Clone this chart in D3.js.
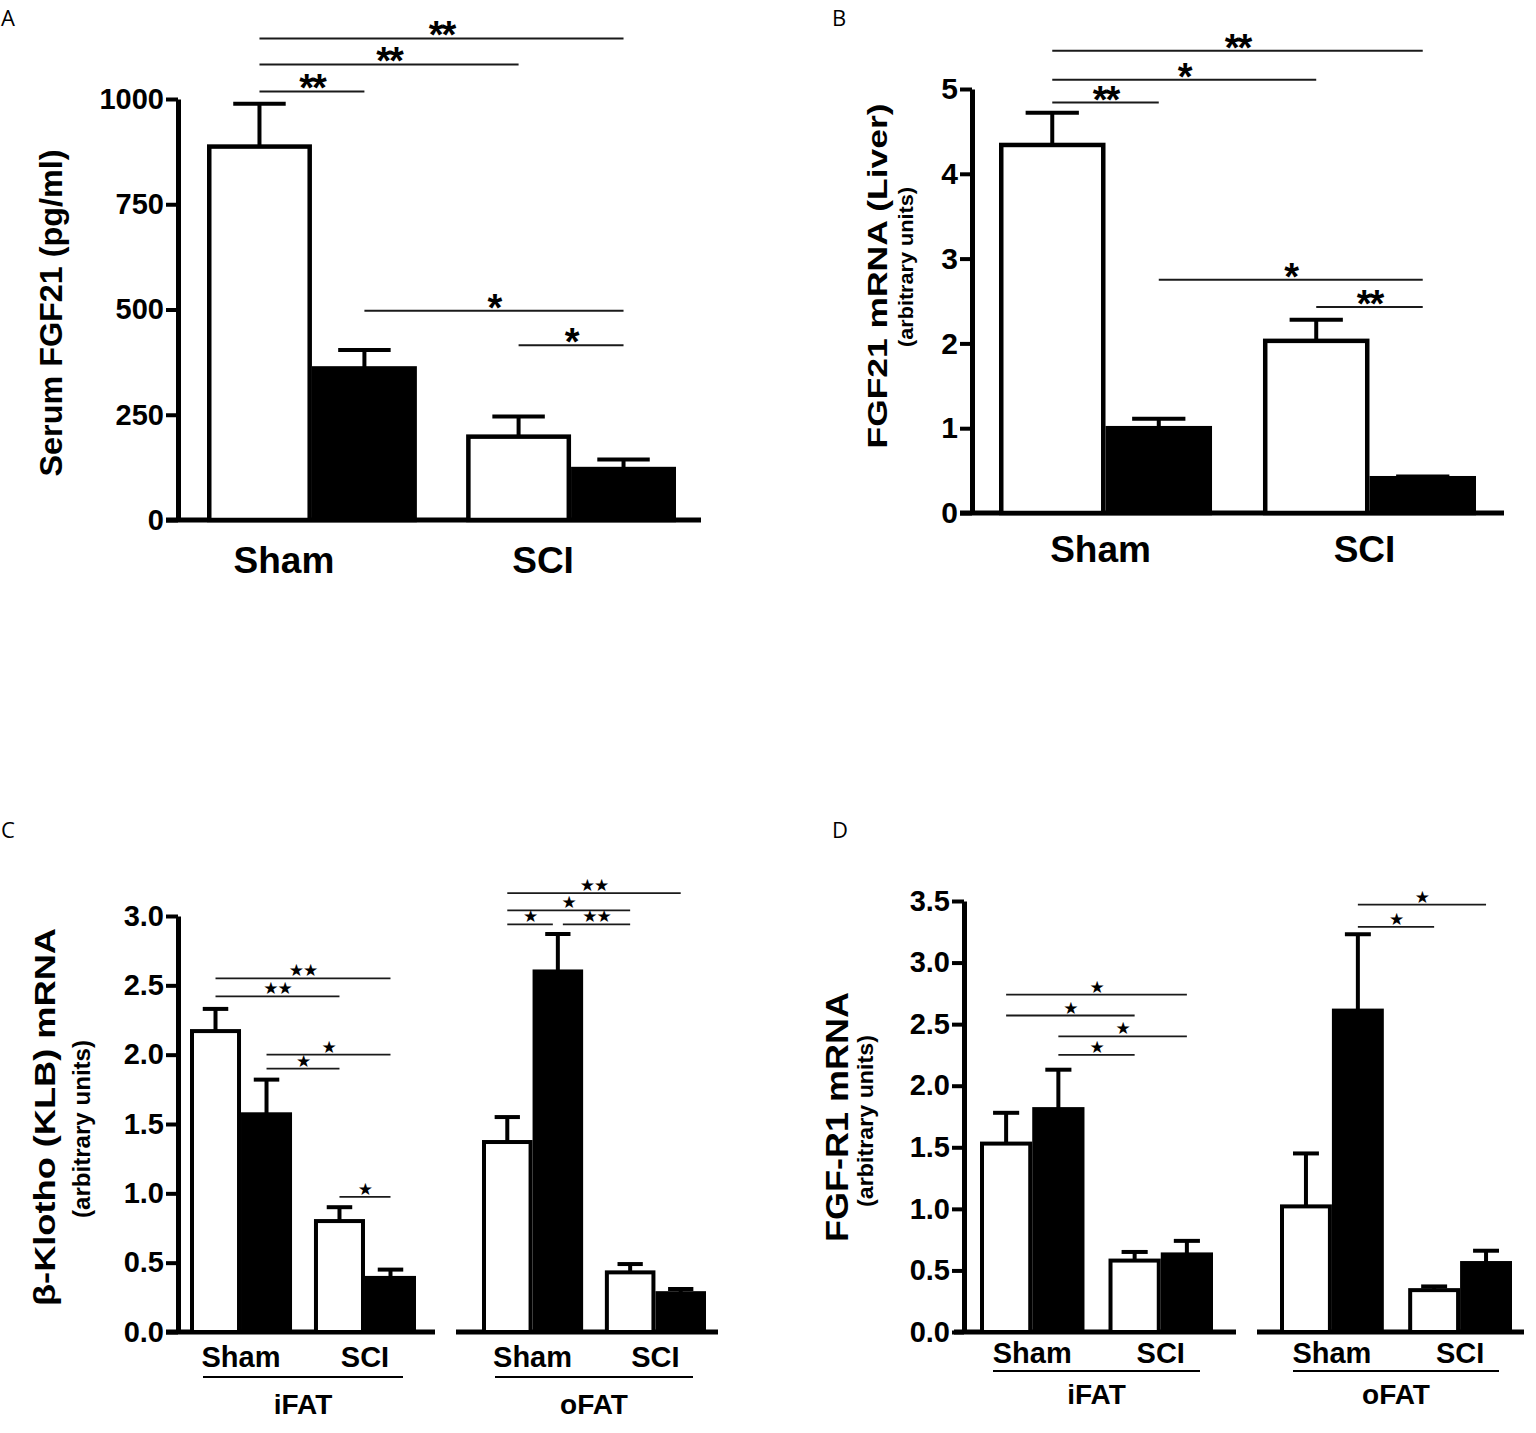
<!DOCTYPE html>
<html><head><meta charset="utf-8">
<script src="https://cdn.jsdelivr.net/npm/d3@7"></script>
<style>body{margin:0;background:#fff}</style>
</head><body><svg id="c" width="1536" height="1433" xmlns="http://www.w3.org/2000/svg"></svg>
<script>
// ---------- DATA ----------
const groups = ["Sham", "SCI"];
const series = ["open", "filled"];
const tissues = ["iFAT", "oFAT"];

// Panel A: Serum FGF21 (pg/ml)
const aMeans = [887, 360, 198, 121];
const aErrs  = [102, 44, 48, 23];
const aTicks = [0, 250, 500, 750, 1000];
const aSig = [[0,1,1018,"**"],[0,2,1082,"**"],[0,3,1144,"**"],[1,3,497,"*"],[2,3,415,"*"]];

// Panel B: FGF21 mRNA (Liver)
const bMeans = [4.34, 1.00, 2.03, 0.41];
const bErrs  = [0.38, 0.11, 0.25, 0.02];
const bTicks = [0, 1, 2, 3, 4, 5];
const bSig = [[0,1,4.84,"**"],[0,2,5.11,"*"],[0,3,5.45,"**"],[1,3,2.75,"*"],[2,3,2.43,"**"]];

// Panel C: beta-Klotho (KLB) mRNA
const cMeansIFAT = [2.17, 1.57, 0.80, 0.39];
const cErrsIFAT  = [0.16, 0.25, 0.10, 0.06];
const cMeansOFAT = [1.37, 2.60, 0.43, 0.28];
const cErrsOFAT  = [0.18, 0.27, 0.06, 0.03];
const cTicks = [0, 0.5, 1.0, 1.5, 2.0, 2.5, 3.0];
const cSigIFAT = [[0,3,2.55,"**"],[0,2,2.42,"**"],[1,3,2.00,"*"],[1,2,1.90,"*"],[2,3,0.975,"*"]];
const cSigOFAT = [[0,3,3.165,"**"],[0,2,3.04,"*"],[0,1,2.94,"*"],[1,2,2.94,"**"]];

// Panel D: FGF-R1 mRNA
const dMeansIFAT = [1.53, 1.81, 0.58, 0.63];
const dErrsIFAT  = [0.25, 0.32, 0.07, 0.11];
const dMeansOFAT = [1.02, 2.61, 0.34, 0.56];
const dErrsOFAT  = [0.43, 0.62, 0.03, 0.10];
const dTicks = [0, 0.5, 1.0, 1.5, 2.0, 2.5, 3.0, 3.5];
const dSigIFAT = [[0,3,2.74,"*"],[0,2,2.57,"*"],[1,3,2.40,"*"],[1,2,2.25,"*"]];
const dSigOFAT = [[1,3,3.47,"*"],[1,2,3.29,"*"]];

// ---------- DRAWING ----------
const FONT = '"Liberation Sans", Arial, Helvetica, sans-serif';
const svg = d3.select("#c");

function yAxis(y, ticks, x, fmt, fs) {
  const ax = d3.axisLeft(y).tickValues(ticks).tickSize(12).tickSizeOuter(0).tickPadding(2).tickFormat(fmt);
  const a = svg.append("g").attr("transform", `translate(${x},0)`).call(ax);
  a.select(".domain").attr("stroke", "#000").attr("stroke-width", 5);
  a.selectAll(".tick line").attr("stroke", "#000").attr("stroke-width", 4);
  a.selectAll(".tick text").attr("fill", "#000")
    .style("font-family", FONT).style("font-weight", "bold").style("font-size", fs + "px");
}

function title(text, x, y, fs, len) {
  svg.append("text").attr("transform", `translate(${x},${y}) rotate(-90)`)
    .attr("text-anchor", "middle").attr("textLength", len).attr("lengthAdjust", "spacingAndGlyphs")
    .style("font-family", FONT).style("font-weight", "bold")
    .style("font-size", fs + "px").text(text);
}

function block(cfg) {
  const y = cfg.y;
  const xg = d3.scaleBand().domain(groups).range(cfg.range).paddingInner(cfg.pad).paddingOuter(0);
  const xs = d3.scaleBand().domain(series).range([0, xg.bandwidth()]);
  const data = cfg.means.map((m, i) => ({ g: groups[Math.floor(i / 2)], s: series[i % 2], m, e: cfg.errs[i] }));
  const cx = d => xg(d.g) + xs(d.s) + xs.bandwidth() / 2;
  const g = svg.append("g");

  // baseline
  g.append("line").attr("x1", cfg.base[0]).attr("x2", cfg.base[1])
    .attr("y1", y(0)).attr("y2", y(0)).attr("stroke", "#000").attr("stroke-width", 5);

  // bars
  const sw = cfg.sw;
  g.selectAll(".bar").data(data).join("rect").attr("class", "bar")
    .attr("x", d => xg(d.g) + xs(d.s) + sw / 2)
    .attr("width", xs.bandwidth() - sw)
    .attr("y", d => y(d.m))
    .attr("height", d => y(0) - y(d.m))
    .attr("fill", d => d.s === "open" ? "#fff" : "#000")
    .attr("stroke", "#000").attr("stroke-width", sw);

  // error bars (upper)
  const capW = xs.bandwidth() * 0.5;
  g.selectAll(".stem").data(data).join("line").attr("class", "stem")
    .attr("x1", cx).attr("x2", cx).attr("y1", d => y(d.m)).attr("y2", d => y(d.m + d.e))
    .attr("stroke", "#000").attr("stroke-width", cfg.ew);
  g.selectAll(".cap").data(data).join("line").attr("class", "cap")
    .attr("x1", d => cx(d) - capW / 2).attr("x2", d => cx(d) + capW / 2)
    .attr("y1", d => y(d.m + d.e)).attr("y2", d => y(d.m + d.e))
    .attr("stroke", "#000").attr("stroke-width", cfg.ew);

  // significance annotations
  cfg.sig.forEach(s => {
    let x1 = cx(data[s[0]]), x2 = cx(data[s[1]]);
    cfg.sig.forEach(o => {
      if (o !== s && o[2] === s[2]) {
        if (o[1] === s[0]) x1 += 5;
        if (o[0] === s[1]) x2 -= 5;
      }
    });
    const ly = y(s[2]);
    g.append("line").attr("x1", x1).attr("x2", x2).attr("y1", ly).attr("y2", ly)
      .attr("stroke", "#1a1a1a").attr("stroke-width", cfg.sigW);
    const lab = cfg.star ? s[3].replace(/\*/g, "\u2605") : s[3];
    g.append("text").attr("x", (x1 + x2) / 2).attr("y", ly + cfg.sigDy)
      .attr("text-anchor", "middle")
      .style("font-family", cfg.star ? '"DejaVu Sans", sans-serif' : FONT)
      .style("font-weight", "bold").style("font-size", cfg.sigFs + "px")
      .style("letter-spacing", cfg.star ? "-1px" : "-2px")
      .text(lab);
  });

  // group labels
  g.selectAll(".glab").data(groups).join("text").attr("class", "glab")
    .attr("x", d => xg(d) + xg.bandwidth() / 2 + (cfg.labDx || 0))
    .attr("y", cfg.labY).attr("text-anchor", "middle")
    .style("font-family", FONT).style("font-weight", "bold").style("font-size", cfg.labFs + "px")
    .text(d => d);

  // tissue underline + label
  if (cfg.tissue) {
    const u0 = cfg.range[0] + 13, u1 = cfg.range[1] - 13;
    g.append("line").attr("x1", u0).attr("x2", u1).attr("y1", cfg.ulY).attr("y2", cfg.ulY)
      .attr("stroke", "#000").attr("stroke-width", 2);
    g.append("text").attr("x", (u0 + u1) / 2).attr("y", cfg.tisY).attr("text-anchor", "middle")
      .style("font-family", FONT).style("font-weight", "bold").style("font-size", "28px")
      .text(cfg.tissue);
  }
}

function letter(t, x, y) {
  svg.append("text").attr("x", x).attr("y", y)
    .style("font-family", '"Open Sans", "DejaVu Sans", sans-serif').style("font-size", "22px").text(t);
}

// ----- Panel A -----
const yA = d3.scaleLinear().domain([0, 1000]).range([520, 99]);
block({ y: yA, range: [207, 676], pad: 0.19, means: aMeans, errs: aErrs, base: [166, 701],
  sw: 4.5, ew: 4, sig: aSig, star: false, sigFs: 38, sigDy: 10, sigW: 2,
  labY: 573, labFs: 37, labDx: -28 });
yAxis(yA, aTicks, 178, d3.format("d"), 29);
title("Serum FGF21 (pg/ml)", 62, 313, 32, 327);
letter("A", 1, 26);

// ----- Panel B -----
const yB = d3.scaleLinear().domain([0, 5]).range([513, 89]);
block({ y: yB, range: [999, 1476], pad: 0.193, means: bMeans, errs: bErrs, base: [960, 1504],
  sw: 4.5, ew: 4, sig: bSig, star: false, sigFs: 38, sigDy: 10, sigW: 2,
  labY: 562, labFs: 37, labDx: -5 });
yAxis(yB, bTicks, 972, d3.format("d"), 30);
title("FGF21 mRNA (Liver)", 887, 276, 28, 345);
title("(arbitrary units)", 913, 267, 21, 160);
letter("B", 832, 26);

// ----- Panel C -----
const yC = d3.scaleLinear().domain([0, 3]).range([1332, 916]);
block({ y: yC, range: [190, 416], pad: 0.177, means: cMeansIFAT, errs: cErrsIFAT, base: [166, 435],
  sw: 4, ew: 4, sig: cSigIFAT, star: true, sigFs: 17, sigDy: -2, sigW: 1.8,
  labY: 1367, labFs: 29, tissue: tissues[0], ulY: 1377, tisY: 1414 });
block({ y: yC, range: [482, 706], pad: 0.177, means: cMeansOFAT, errs: cErrsOFAT, base: [456, 718],
  sw: 4, ew: 4, sig: cSigOFAT, star: true, sigFs: 17, sigDy: -2, sigW: 1.8,
  labY: 1367, labFs: 29, tissue: tissues[1], ulY: 1377, tisY: 1414 });
yAxis(yC, cTicks, 178, d3.format(".1f"), 29);
title("\u03B2-Klotho (KLB) mRNA", 55, 1117, 30, 378);
title("(arbitrary units)", 90, 1129, 23, 178);
letter("C", 1, 838);

// ----- Panel D -----
const yD = d3.scaleLinear().domain([0, 3.5]).range([1332, 901]);
block({ y: yD, range: [980, 1213], pad: 0.187, means: dMeansIFAT, errs: dErrsIFAT, base: [954, 1236],
  sw: 4, ew: 4, sig: dSigIFAT, star: true, sigFs: 17, sigDy: -2, sigW: 1.8,
  labY: 1363, labFs: 29, tissue: tissues[0], ulY: 1371, tisY: 1404 });
block({ y: yD, range: [1280, 1512], pad: 0.19, means: dMeansOFAT, errs: dErrsOFAT, base: [1257, 1524],
  sw: 4, ew: 4, sig: dSigOFAT, star: true, sigFs: 17, sigDy: -2, sigW: 1.8,
  labY: 1363, labFs: 29, tissue: tissues[1], ulY: 1371, tisY: 1404 });
yAxis(yD, dTicks, 964, d3.format(".1f"), 29);
title("FGF-R1 mRNA", 848, 1117, 32, 250);
title("(arbitrary units)", 873, 1121, 22, 172);
letter("D", 832, 838);
</script>
</body></html>
